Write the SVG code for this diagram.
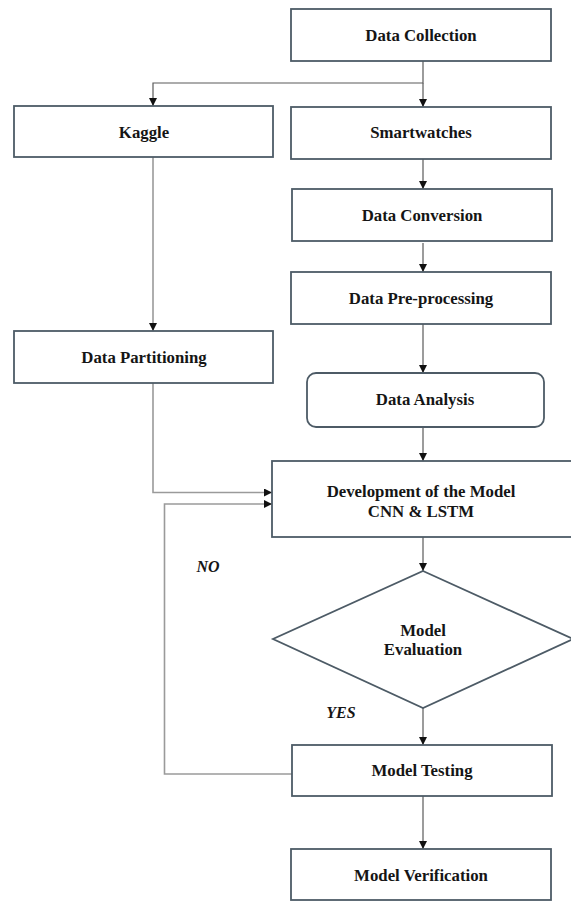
<svg xmlns="http://www.w3.org/2000/svg" width="571" height="902" viewBox="0 0 571 902">
<style>
.box{fill:#fff;stroke:#4d5b66;stroke-width:1.8}
.t{font-family:"Liberation Serif","Times New Roman",serif;font-weight:bold;font-size:16.8px;fill:#151515;text-anchor:middle}
.lbl{font-family:"Liberation Serif","Times New Roman",serif;font-weight:bold;font-style:italic;font-size:16px;fill:#151515;text-anchor:middle}
.c{fill:none;stroke:#5a5a5a;stroke-width:1.2}
.c2{fill:none;stroke:#9a9a9a;stroke-width:1.6}
</style>
<defs>
<marker id="ah" viewBox="0 0 8 8" refX="8" refY="4" markerWidth="8" markerHeight="8" markerUnits="userSpaceOnUse" orient="auto">
<path d="M0,0 L8,4 L0,8 Z" fill="#111"/>
</marker>
</defs>
<rect width="571" height="902" fill="#fff"/>
<g id="connectors">
<path class="c" d="M423,61 V83 H153 V106" marker-end="url(#ah)"/>
<path class="c" d="M423,83 V107" marker-end="url(#ah)"/>
<path class="c" d="M423,159 V189" marker-end="url(#ah)"/>
<path class="c" d="M423,243 V272" marker-end="url(#ah)"/>
<path class="c" d="M423,324 V373" marker-end="url(#ah)"/>
<path class="c" d="M423,427 V461" marker-end="url(#ah)"/>
<path class="c2" d="M153,157 V331" marker-end="url(#ah)"/>
<path class="c2" d="M153,383 V492.5 H272" marker-end="url(#ah)"/>
<path class="c2" d="M292,774 H164.5 V504 H272" marker-end="url(#ah)"/>
<path class="c" d="M423,537 V571" marker-end="url(#ah)"/>
<path class="c" d="M423,708 V745" marker-end="url(#ah)"/>
<path class="c" d="M423,796 V849" marker-end="url(#ah)"/>
</g>
<g id="data-collection"><rect class="box" x="291" y="9" width="260" height="52"/><text class="t" x="421" y="40.5">Data Collection</text></g>
<g id="kaggle"><rect class="box" x="14" y="106" width="259" height="51"/><text class="t" x="144" y="138">Kaggle</text></g>
<g id="smartwatches"><rect class="box" x="291" y="107" width="260" height="52"/><text class="t" x="421" y="138">Smartwatches</text></g>
<g id="data-conversion"><rect class="box" x="292" y="189" width="260" height="52"/><text class="t" x="422" y="220.5">Data Conversion</text></g>
<g id="data-preprocessing"><rect class="box" x="291" y="272" width="260" height="52"/><text class="t" x="421" y="304">Data Pre-processing</text></g>
<g id="data-partitioning"><rect class="box" x="14" y="331" width="259" height="52"/><text class="t" x="144" y="362.5">Data Partitioning</text></g>
<g id="data-analysis"><rect class="box" x="307" y="373" width="237" height="54" rx="9"/><text class="t" x="425" y="405">Data Analysis</text></g>
<g id="development"><rect class="box" x="272" y="461" width="304" height="76"/><text class="t" x="421" y="497">Development of the Model</text><text class="t" x="421" y="517">CNN &amp; LSTM</text></g>
<g id="model-evaluation"><polygon class="box" points="423,571 573,639 423,708 273,639"/><text class="t" x="423" y="636">Model</text><text class="t" x="423" y="655">Evaluation</text></g>
<g id="model-testing"><rect class="box" x="292" y="745" width="260" height="51"/><text class="t" x="422" y="776">Model Testing</text></g>
<g id="model-verification"><rect class="box" x="291" y="849" width="260" height="51"/><text class="t" x="421" y="880.5">Model Verification</text></g>
<g id="labels"><text class="lbl" x="208" y="571.5">NO</text><text class="lbl" x="341" y="718">YES</text></g>
</svg>
